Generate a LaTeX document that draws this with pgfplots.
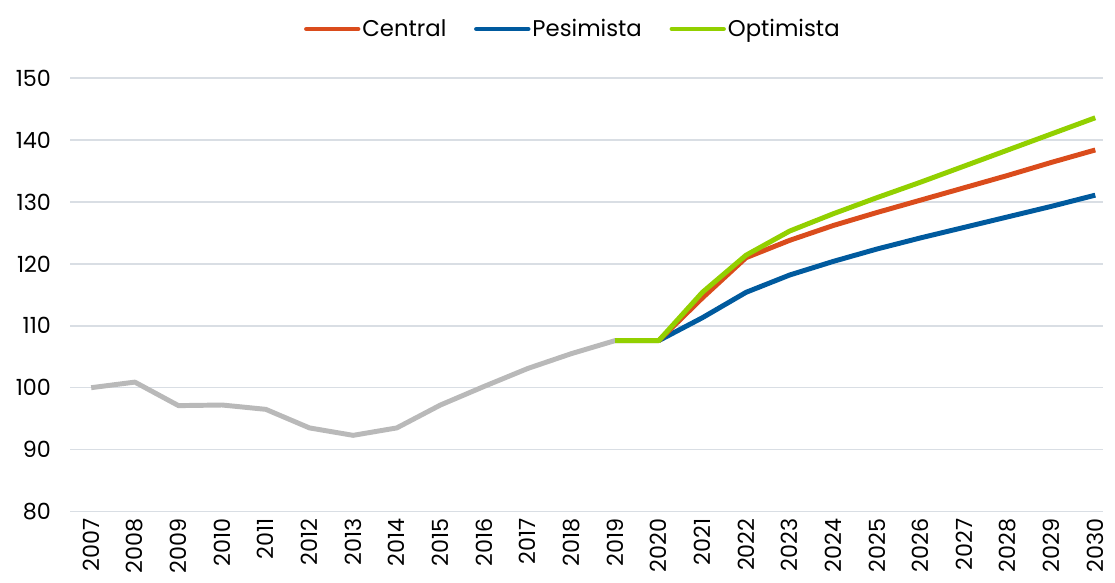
\documentclass[border=0pt]{standalone}
\usepackage{fontspec}
\setmainfont{Poppins}
\usepackage{pgfplots}
\pgfplotsset{compat=1.18}
\definecolor{cCentral}{RGB}{218,76,28}
\definecolor{cPes}{RGB}{0,90,158}
\definecolor{cOpt}{RGB}{146,208,0}
\definecolor{cHist}{RGB}{185,185,185}
\definecolor{cGrid}{RGB}{217,222,228}
\begin{document}
\begin{tikzpicture}
\begin{axis}[
  scale only axis,
  width=1044pt, height=438pt,
  xmin=2006.52, xmax=2030.18,
  ymin=80, ymax=150,
  ytick={80,90,...,150},
  xtick={2007,...,2030},
  xticklabel={\pgfmathprintnumber[1000 sep={}]{\tick}},
  axis line style={draw=none},
  major tick length=0pt,
  ymajorgrids,
  grid style={cGrid, line width=1.5pt},
  font=\fontsize{22.5}{26}\selectfont,
  /pgf/number format/assume math mode=true,
  /pgf/number format/1000 sep={},
  yticklabel style={anchor=east, xshift=-16pt},
  xticklabel style={rotate=90, anchor=east, yshift=0pt, xshift=-6pt, inner sep=1pt},
  legend style={draw=none, fill=none, at={(0.5,1)}, anchor=south, yshift=36pt, xshift=-14pt,
    legend columns=3, font=\fontsize{23}{26}\selectfont,
    /tikz/every even column/.append style={column sep=26pt}},
  legend cell align=left,
  legend image code/.code={\draw[#1, line cap=round, line width=5pt] (0pt,0pt) -- (52pt,0pt);},
  every axis plot/.append style={line width=5pt, line join=round},
]
\addplot[cHist, forget plot] coordinates {
(2007,100.0) (2008,100.9) (2009,97.1) (2010,97.2) (2011,96.5) (2012,93.5)
(2013,92.3) (2014,93.5) (2015,97.2) (2016,100.2) (2017,103.1) (2018,105.5)
(2019,107.6) (2020,107.6)};
\addplot[cPes, forget plot] coordinates {
(2020,107.6) (2021,111.3) (2022,115.4) (2023,118.2) (2024,120.4) (2025,122.4)
(2026,124.2) (2027,125.9) (2028,127.6) (2029,129.3) (2030,131.1)};
\addplot[cCentral, forget plot] coordinates {
(2020,107.6) (2021,114.5) (2022,121.0) (2023,123.8) (2024,126.2) (2025,128.3)
(2026,130.3) (2027,132.3) (2028,134.3) (2029,136.4) (2030,138.4)};
\addplot[cOpt, forget plot] coordinates {
(2019,107.6) (2020,107.6) (2021,115.4) (2022,121.4) (2023,125.3) (2024,128.1)
(2025,130.7) (2026,133.2) (2027,135.8) (2028,138.4) (2029,141.0) (2030,143.6)};
\addlegendimage{cCentral}\addlegendentry{Central}
\addlegendimage{cPes}\addlegendentry{Pesimista}
\addlegendimage{cOpt}\addlegendentry{Optimista}
\end{axis}
\pgfresetboundingbox
\path (current axis.south west) ++(-71pt,-72pt) rectangle ([xshift=12pt,yshift=79pt]current axis.north east);
\end{tikzpicture}
\end{document}
